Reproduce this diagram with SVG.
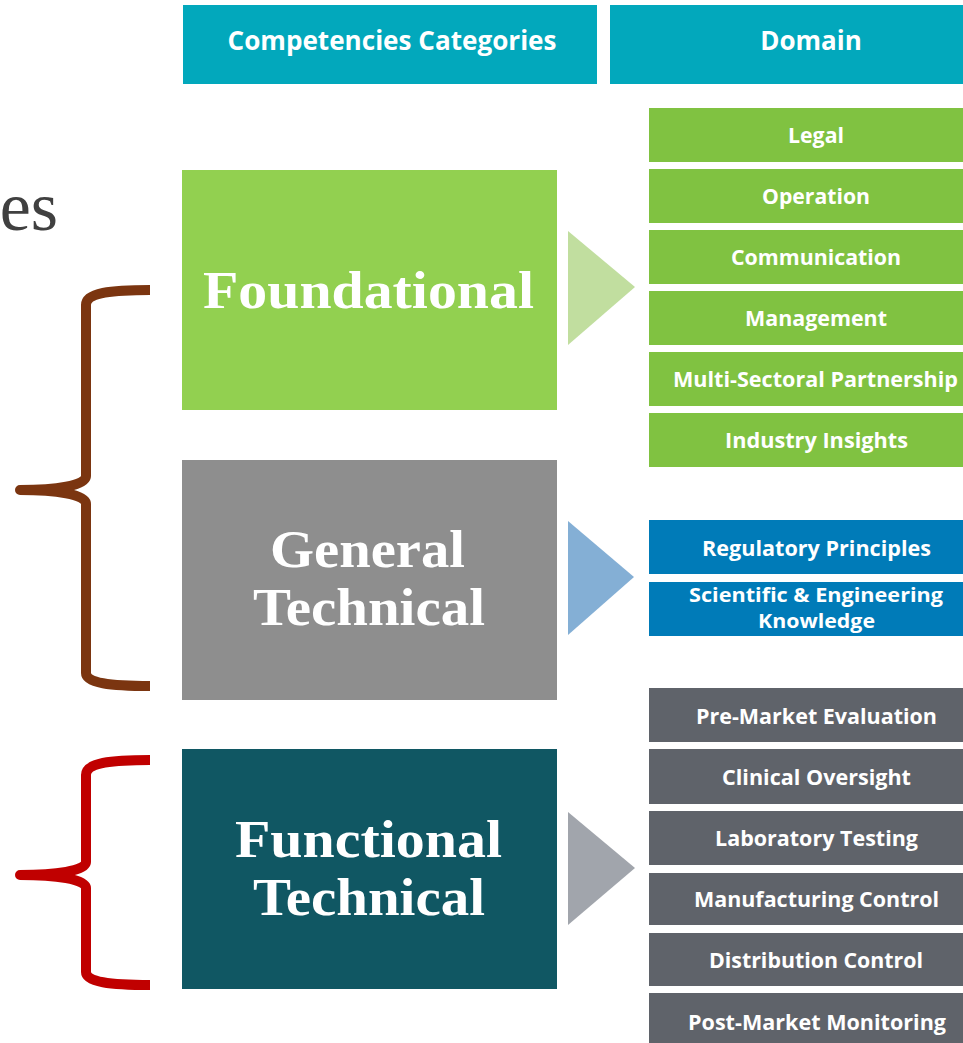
<svg xmlns="http://www.w3.org/2000/svg" width="963" height="1043" viewBox="0 0 963 1043">
<style>
.hdr{fill:#02a8bc}
.hdrt{font-family:"Open Sans","Liberation Sans",sans-serif;font-weight:700;font-size:26px;fill:#fff;text-anchor:middle}
.cat{font-family:"Liberation Serif","Times New Roman",serif;font-weight:700;font-size:53px;fill:#fff;text-anchor:middle}
.dom{font-family:"Open Sans","Liberation Sans",sans-serif;font-weight:700;font-size:21px;fill:#fff;text-anchor:middle}
.dom2{font-size:19px}
.g{fill:#80c241}
.b{fill:#007bb8}
.k{fill:#5f636a}
.brace{fill:none;stroke-width:10;stroke-linejoin:round;stroke-linecap:butt}
</style>
<rect width="963" height="1043" fill="#fff"/>
<text x="58" y="230" font-family="Liberation Serif,serif" font-size="70" fill="#404040" text-anchor="end">es</text>

<g id="header-categories"><rect class="hdr" x="183" y="5" width="414" height="79"/><text class="hdrt" x="392" y="50" textLength="329" lengthAdjust="spacingAndGlyphs">Competencies Categories</text></g>
<g id="header-domain"><rect class="hdr" x="610" y="5" width="400" height="79"/><text class="hdrt" x="811" y="50">Domain</text></g>

<g id="foundational"><rect x="182" y="170" width="375" height="240" fill="#92d050"/><text class="cat" x="368.5" y="308" textLength="331" lengthAdjust="spacingAndGlyphs">Foundational</text></g>
<g id="general-technical"><rect x="182" y="460" width="375" height="240" fill="#8e8e8e"/><text class="cat" x="367.5" y="567" textLength="195" lengthAdjust="spacingAndGlyphs">General</text><text class="cat" x="369" y="625" textLength="232" lengthAdjust="spacingAndGlyphs">Technical</text></g>
<g id="functional-technical"><rect x="182" y="749" width="375" height="240" fill="#105763"/><text class="cat" x="368.5" y="857" textLength="267" lengthAdjust="spacingAndGlyphs">Functional</text><text class="cat" x="369" y="915" textLength="232" lengthAdjust="spacingAndGlyphs">Technical</text></g>

<g id="connectors">
<polygon points="568,231 635,287 568,345" fill="#c1de9f"/>
<polygon points="568,521 634,577 568,635" fill="#84afd5"/>
<polygon points="568,812 635,868 568,925" fill="#a1a5ac"/>
<path class="brace" stroke="#7b3510" d="M150,290 C110,290 86,293 86,305 L86,476 C86,486 55,490 20,490 C55,490 86,494 86,504 L86,673 C86,683 110,686 150,686"/>
<path class="brace" stroke="#c00000" d="M150,760 C110,760 86,763 86,775 L86,862 C86,871 55,875 20,875 C55,875 86,879 86,888 L86,972 C86,982 110,985 150,985"/>
</g>

<g id="d-legal"><rect class="g" x="649" y="108" width="330" height="54"/><text class="dom" x="816" y="143" textLength="56" lengthAdjust="spacingAndGlyphs">Legal</text></g>
<g id="d-operation"><rect class="g" x="649" y="169" width="330" height="54"/><text class="dom" x="816" y="204" textLength="108" lengthAdjust="spacingAndGlyphs">Operation</text></g>
<g id="d-communication"><rect class="g" x="649" y="230" width="330" height="54"/><text class="dom" x="816" y="265" textLength="170" lengthAdjust="spacingAndGlyphs">Communication</text></g>
<g id="d-management"><rect class="g" x="649" y="291" width="330" height="54"/><text class="dom" x="816" y="326" textLength="142" lengthAdjust="spacingAndGlyphs">Management</text></g>
<g id="d-multi"><rect class="g" x="649" y="352" width="330" height="54"/><text class="dom" x="815.5" y="387" textLength="285" lengthAdjust="spacingAndGlyphs">Multi-Sectoral Partnership</text></g>
<g id="d-industry"><rect class="g" x="649" y="413" width="330" height="54"/><text class="dom" x="816.5" y="448" textLength="183" lengthAdjust="spacingAndGlyphs">Industry Insights</text></g>

<g id="d-regulatory"><rect class="b" x="649" y="520" width="330" height="54"/><text class="dom" x="816.5" y="556" textLength="229" lengthAdjust="spacingAndGlyphs">Regulatory Principles</text></g>
<g id="d-scientific"><rect class="b" x="649" y="582" width="330" height="54"/><text class="dom dom2" x="816" y="602" textLength="254" lengthAdjust="spacingAndGlyphs">Scientific &amp; Engineering</text><text class="dom dom2" x="816.5" y="628" textLength="117" lengthAdjust="spacingAndGlyphs">Knowledge</text></g>

<g id="d-premarket"><rect class="k" x="649" y="688" width="330" height="54"/><text class="dom" x="816.5" y="724" textLength="241" lengthAdjust="spacingAndGlyphs">Pre-Market Evaluation</text></g>
<g id="d-clinical"><rect class="k" x="649" y="749" width="330" height="55"/><text class="dom" x="816.5" y="785" textLength="189" lengthAdjust="spacingAndGlyphs">Clinical Oversight</text></g>
<g id="d-laboratory"><rect class="k" x="649" y="811" width="330" height="54"/><text class="dom" x="816.5" y="846" textLength="203" lengthAdjust="spacingAndGlyphs">Laboratory Testing</text></g>
<g id="d-manufacturing"><rect class="k" x="649" y="873" width="330" height="52"/><text class="dom" x="816.5" y="907" textLength="245" lengthAdjust="spacingAndGlyphs">Manufacturing Control</text></g>
<g id="d-distribution"><rect class="k" x="649" y="933" width="330" height="53"/><text class="dom" x="816" y="968" textLength="214" lengthAdjust="spacingAndGlyphs">Distribution Control</text></g>
<g id="d-postmarket"><rect class="k" x="649" y="993" width="330" height="60"/><text class="dom" x="817" y="1030" textLength="258" lengthAdjust="spacingAndGlyphs">Post-Market Monitoring</text></g>
</svg>
